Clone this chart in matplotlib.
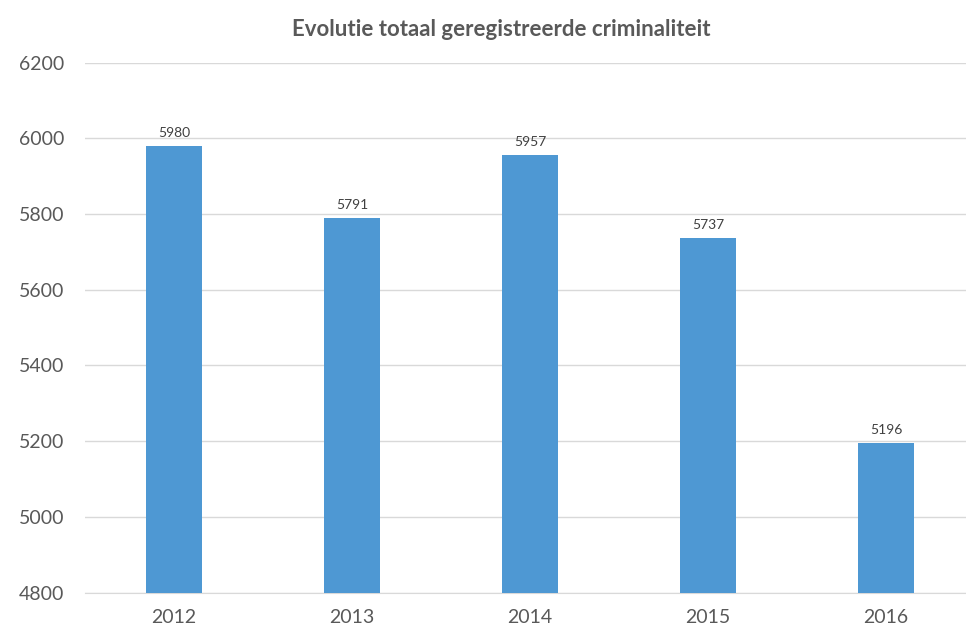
import matplotlib.pyplot as plt
import numpy as np

plt.rcParams['font.family'] = ['Lato', 'DejaVu Sans']

years = ['2012', '2013', '2014', '2015', '2016']
totals = [5980, 5791, 5957, 5737, 5196]
y_ticks = [4800, 5000, 5200, 5400, 5600, 5800, 6000, 6200]

bar_color = '#4E98D3'
text_color = '#595959'
grid_color = '#D9D9D9'

fig = plt.figure(figsize=(9.66, 6.27), dpi=100)
ax = fig.add_axes([85 / 966, 1 - 592.6 / 627, (966 - 85) / 966, (592.6 - 62.7) / 627])

x = np.arange(len(years))
bars = ax.bar(x, totals, width=0.315, color=bar_color, zorder=3)

for xi, v in zip(x, totals):
    ax.text(xi, v + 18, str(v), ha='center', va='bottom', fontsize=10, color='#404040')

ax.set_ylim(4800, 6200)
ax.set_yticks(y_ticks)
ax.set_xlim(-0.5, 4.45)
ax.set_xticks(x)
ax.set_xticklabels(years)
ax.tick_params(axis='both', length=0, labelsize=14, colors=text_color)
ax.tick_params(axis='x', pad=12)
ax.tick_params(axis='y', pad=15)
ax.yaxis.grid(True, color=grid_color, linewidth=1, zorder=0)
for s in ax.spines.values():
    s.set_visible(False)
ax.spines['bottom'].set_visible(True)
ax.spines['bottom'].set_color(grid_color)

fig.text(0.519, 1 - 30 / 627, 'Evolutie totaal geregistreerde criminaliteit',
         ha='center', va='center', fontsize=16, fontweight='bold', color=text_color)

fig.savefig('out.png', dpi=100, facecolor='white')
